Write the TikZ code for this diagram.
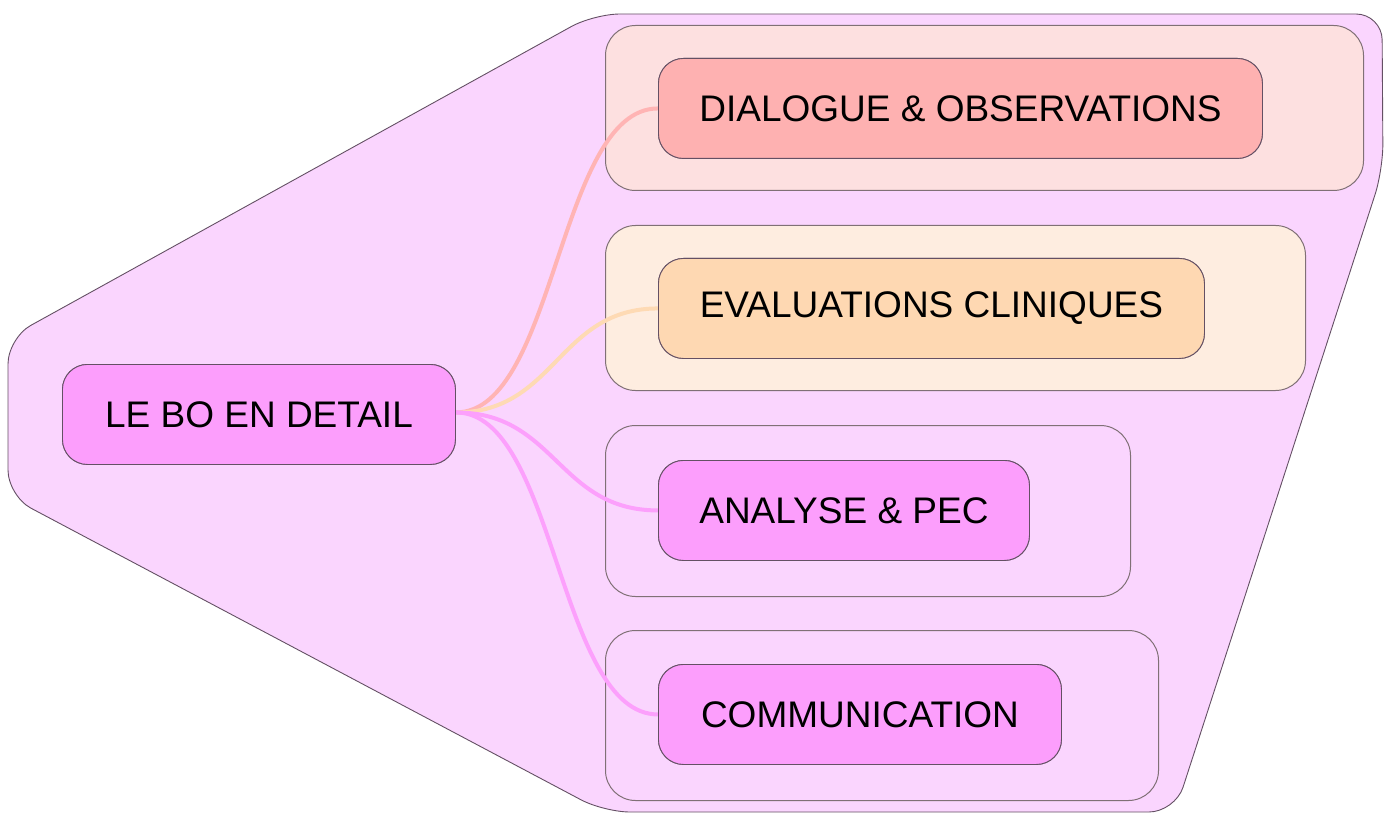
\documentclass[tikz,border=0pt]{standalone}
\usepackage{fontspec}
\setmainfont{Liberation Sans}
\definecolor{hullfill}{RGB}{250,213,254}
\definecolor{edgegray}{RGB}{100,80,100}
\definecolor{grpgray}{RGB}{128,112,118}
\definecolor{gOneFill}{RGB}{253,224,224}
\definecolor{nOneFill}{RGB}{254,177,177}
\definecolor{gTwoFill}{RGB}{254,237,224}
\definecolor{nTwoFill}{RGB}{254,216,178}
\definecolor{nPinkFill}{RGB}{252,158,252}
\definecolor{cOne}{RGB}{255,180,180}
\definecolor{cTwo}{RGB}{254,218,180}
\definecolor{cPink}{RGB}{252,160,252}
\tikzset{
  hull/.style={draw=edgegray, line width=0.9pt, fill=hullfill, rounded corners=26pt},
  grp/.style={draw=grpgray, line width=1pt, rounded corners=30pt, anchor=north west, inner sep=0pt},
  nbox/.style={draw=edgegray, line width=0.9pt, rounded corners=25pt, anchor=north west,
    minimum height=100pt, inner sep=0pt, font=\fontsize{37}{44}\selectfont, text=black},
  conn/.style={line width=4pt}
}
\begin{document}
\begin{tikzpicture}[x=1pt,y=-1pt]
\useasboundingbox (0,0) rectangle (1390,813);
% outer hull
\path[hull] (8,338) -- (594,14) -- (1382,14) -- (1383,170) -- (1175,812) -- (604,812) -- (8,496) -- cycle;
% groups
\node[grp, fill=gOneFill, minimum width=758pt, minimum height=165pt] (g1) at (605,25) {};
\node[grp, fill=gTwoFill, minimum width=700pt, minimum height=165pt] (g2) at (605,225) {};
\node[grp, fill=hullfill, minimum width=525pt, minimum height=171pt] (g3) at (605,425) {};
\node[grp, fill=hullfill, minimum width=553pt, minimum height=170pt] (g4) at (605,630) {};
% node placement (anchors for connectors)
\node[nbox, fill=nPinkFill, minimum width=393pt] (root) at (62,364) {LE BO EN DETAIL};
\node[nbox, fill=nOneFill, minimum width=604pt] (n1) at (658,58) {DIALOGUE \& OBSERVATIONS};
\node[nbox, fill=nTwoFill, minimum width=546pt] (n2) at (658,258) {EVALUATIONS CLINIQUES};
\node[nbox, fill=nPinkFill, minimum width=371pt] (n3) at (658,460) {ANALYSE \& PEC};
\node[nbox, fill=nPinkFill, minimum width=403pt] (n4) at (658,664) {COMMUNICATION};
% connectors
\draw[conn, cOne] ([yshift=2pt]root.east) .. controls +(100,0) and +(-100,0) .. (n1.west);
\draw[conn, cTwo] ([yshift=2pt]root.east) .. controls +(100,0) and +(-100,0) .. (n2.west);
\draw[conn, cPink] ([yshift=2pt]root.east) .. controls +(100,0) and +(-100,0) .. (n3.west);
\draw[conn, cPink] ([yshift=2pt]root.east) .. controls +(100,0) and +(-100,0) .. (n4.west);
% redraw nodes on top of connectors
\node[nbox, fill=nPinkFill, minimum width=393pt] (rootTop) at (62,364) {LE BO EN DETAIL};
\node[nbox, fill=nOneFill, minimum width=604pt] (n1Top) at (658,58) {DIALOGUE \& OBSERVATIONS};
\node[nbox, fill=nTwoFill, minimum width=546pt] (n2Top) at (658,258) {EVALUATIONS CLINIQUES};
\node[nbox, fill=nPinkFill, minimum width=371pt] (n3Top) at (658,460) {ANALYSE \& PEC};
\node[nbox, fill=nPinkFill, minimum width=403pt] (n4Top) at (658,664) {COMMUNICATION};
\end{tikzpicture}
\end{document}
